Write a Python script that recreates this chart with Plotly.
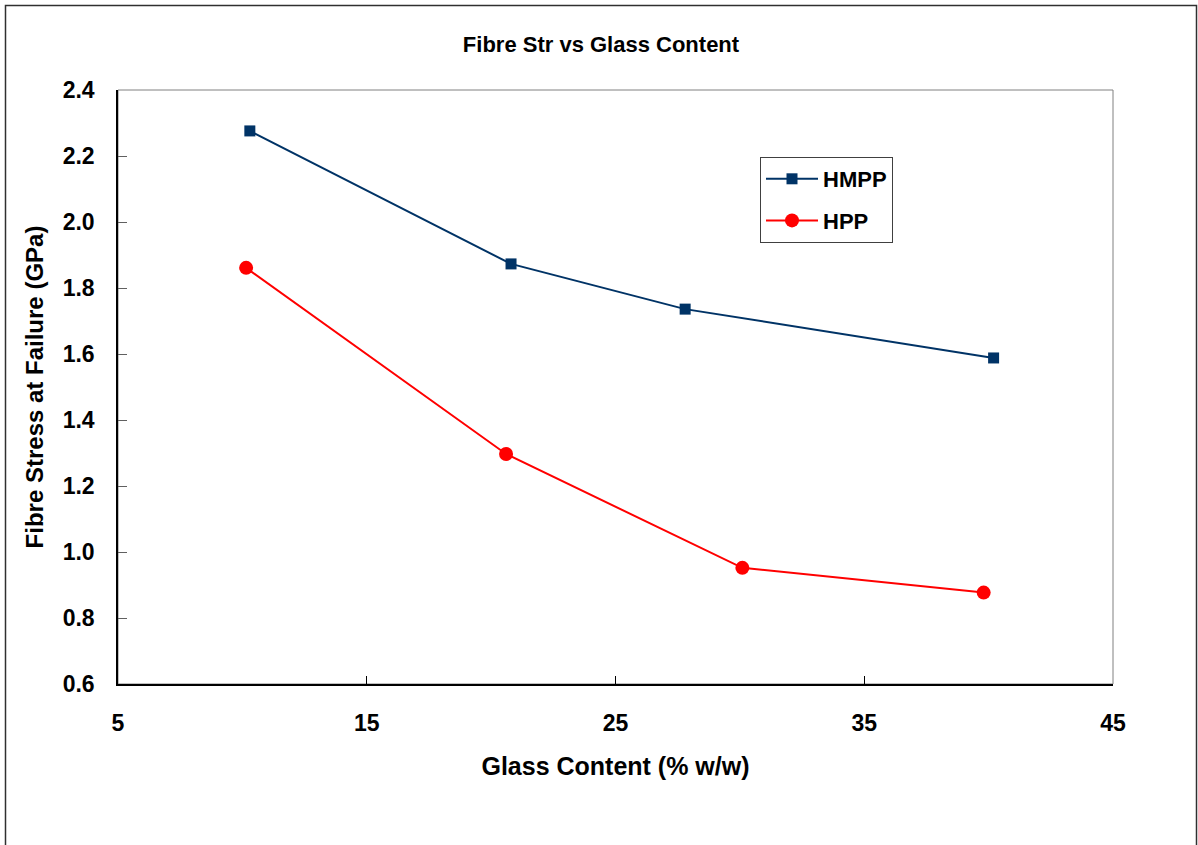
import plotly.graph_objects as go

# Glass content (% w/w) and fibre stress at failure (GPa)
hmpp_glass = [10.3, 20.8, 27.8, 40.2]
hmpp_stress = [2.276, 1.873, 1.736, 1.588]

hpp_glass = [10.15, 20.6, 30.1, 39.8]
hpp_stress = [1.861, 1.297, 0.952, 0.877]

x_ticks = [5, 15, 25, 35, 45]
y_ticks = [0.6, 0.8, 1.0, 1.2, 1.4, 1.6, 1.8, 2.0, 2.2, 2.4]

FONT = "Liberation Sans, Arial, sans-serif"

fig = go.Figure()
fig.add_trace(go.Scatter(
    x=hmpp_glass, y=hmpp_stress, name="<b>HMPP</b>", mode="lines+markers",
    legendgroup="a",
    line=dict(color="#003366", width=2),
    marker=dict(symbol="square", size=11, color="#003366"),
))
fig.add_trace(go.Scatter(
    x=hpp_glass, y=hpp_stress, name="<b>HPP</b>", mode="lines+markers",
    legendgroup="b",
    line=dict(color="#ff0000", width=2),
    marker=dict(symbol="circle", size=14, color="#ff0000"),
))

L, R, T, B = 118, 85, 90, 161
W, H = 1198, 845
pw, ph = W - L - R, H - T - B

fig.update_layout(
    width=W, height=H,
    margin=dict(l=L, r=R, t=T, b=B, autoexpand=False),
    paper_bgcolor="white", plot_bgcolor="white",
    font=dict(family=FONT, color="black"),
    title=dict(text="<b>Fibre Str vs Glass Content</b>", x=601 / W, xref="container",
               xanchor="center",
               y=(H - 44) / H, yanchor="middle", font=dict(size=22)),
    showlegend=True,
    legend=dict(x=(760 - L) / pw, y=(T + ph - 157) / ph, xanchor="left", yanchor="top",
                bordercolor="#404040", borderwidth=1, bgcolor="white",
                font=dict(size=22, family=FONT), itemwidth=52,
                traceorder="grouped", tracegroupgap=10),
    shapes=[
        # plot-area frame (top/right grey)
        dict(type="rect", xref="paper", yref="paper", x0=0, x1=1, y0=0, y1=1,
             line=dict(color="#808080", width=1), layer="below"),
        # outer chart border
        dict(type="rect", xref="paper", yref="paper",
             x0=(5.5 - L) / pw, x1=(1196.5 - L) / pw,
             y0=(T + ph - 860) / ph, y1=(T + ph - 5.5) / ph,
             line=dict(color="#303030", width=1.5), layer="below"),
    ],
)

fig.update_xaxes(
    range=[5, 45], tickvals=x_ticks, ticktext=[f"<b>{v}</b>" for v in x_ticks],
    showgrid=False, zeroline=False,
    showline=True, linecolor="black", linewidth=1.5,
    ticks="inside", ticklen=8, tickcolor="black", tickwidth=1,
    tickfont=dict(size=23), ticklabelstandoff=18,
    title=dict(text="<b>Glass Content (% w/w)</b>", font=dict(size=25), standoff=22),
)
fig.update_yaxes(
    range=[0.6, 2.4], tickvals=y_ticks, ticktext=[f"<b>{v:.1f}</b>" for v in y_ticks],
    showgrid=False, zeroline=False,
    showline=True, linecolor="black", linewidth=1.5,
    ticks="inside", ticklen=9, tickcolor="#606060", tickwidth=1,
    tickfont=dict(size=23), ticklabelstandoff=17,
    title=dict(text="<b>Fibre Stress at Failure (GPa)</b>", font=dict(size=24), standoff=12),
)

fig.write_html("out.html")
